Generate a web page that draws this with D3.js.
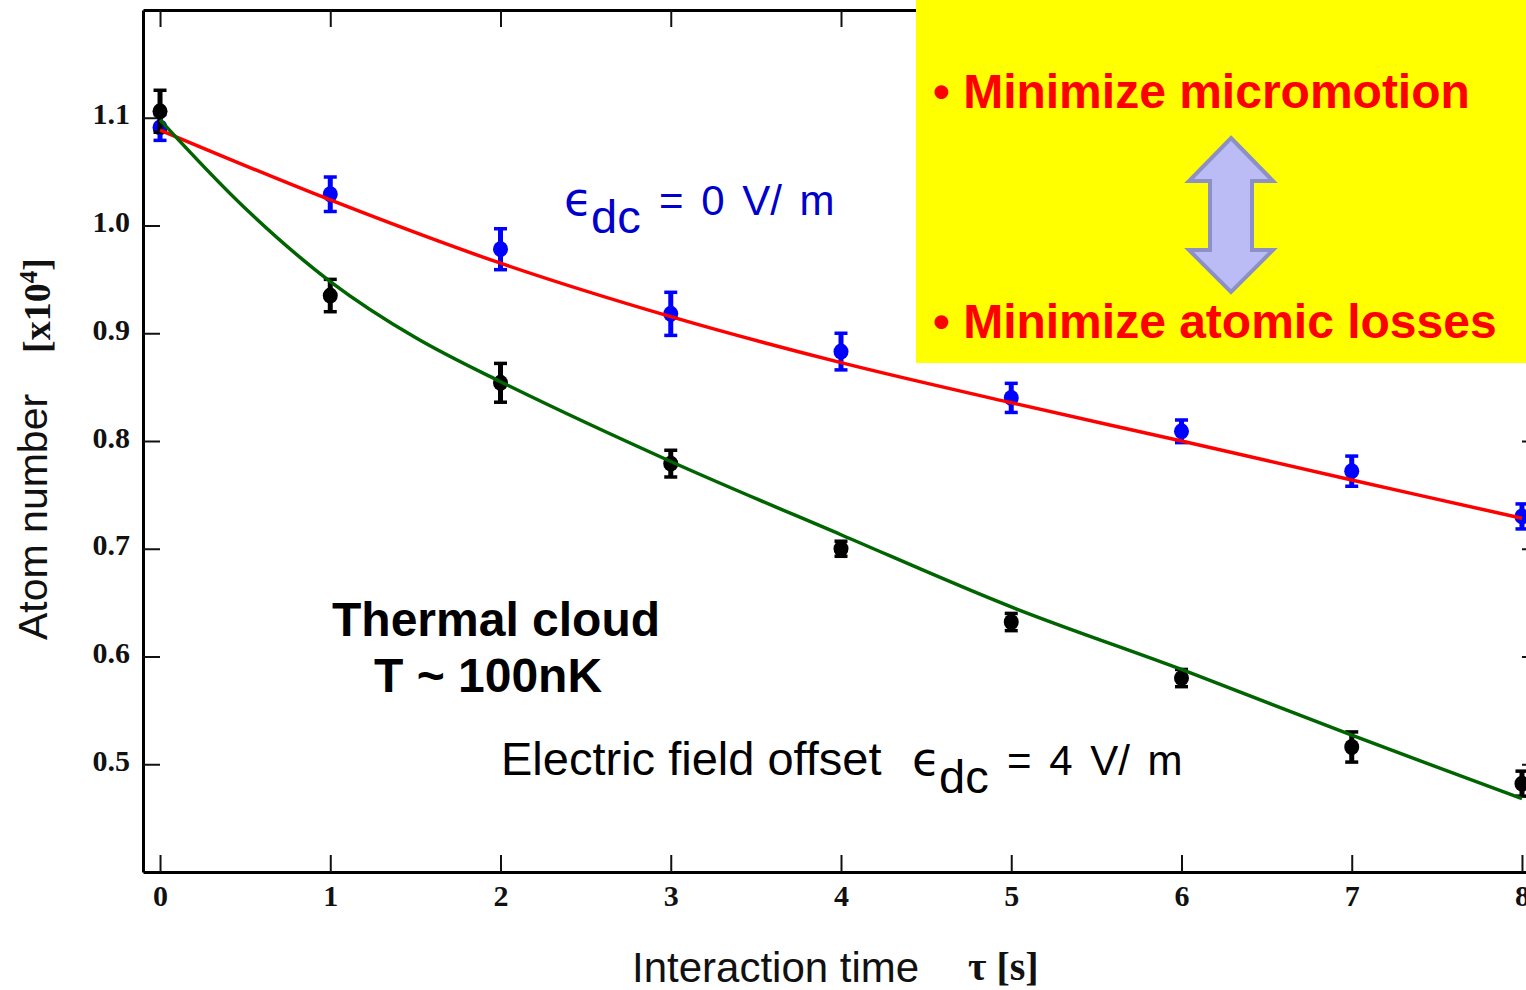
<!DOCTYPE html>
<html>
<head>
<meta charset="utf-8">
<script src="https://cdn.jsdelivr.net/npm/d3@7"></script>
<style>
  body { margin: 0; background: #fff; }
  svg { display: block; }
  .tick text { font-family: "Liberation Serif", "Times New Roman", serif; font-weight: bold; font-size: 30px; fill: #111; }
</style>
</head>
<body>
<div id="chart-area"></div>
<script>
// measured data (atom number in units of 10^4)
var times = [0, 1, 2, 3, 4, 5, 6, 7, 8];
var atoms0 = [1.091, 1.029, 0.978, 0.918, 0.883, 0.840, 0.809, 0.772, 0.730];
var err0 = [0.012, 0.016, 0.019, 0.020, 0.017, 0.0135, 0.0105, 0.014, 0.0116];
var atoms4 = [1.106, 0.935, 0.854, 0.779, 0.700, 0.632, 0.580, 0.516, 0.482];
var err4 = [0.0195, 0.015, 0.018, 0.0124, 0.007, 0.008, 0.008, 0.014, 0.0116];

// fitted curves
var fitT0 = [0, 1, 2, 3, 4, 5, 6, 7, 8];
var fitN0 = [1.0886, 1.0237, 0.965, 0.9154, 0.8727, 0.8355, 0.800, 0.7638, 0.7283];
var fitT4 = [0, 0.5, 1, 1.5, 2, 3, 4, 5, 6, 7, 8];
var fitN4 = [1.098, 1.016, 0.948, 0.896, 0.855, 0.781, 0.713, 0.646, 0.588, 0.527, 0.468];

var xTicks = [0, 1, 2, 3, 4, 5, 6, 7, 8];
var yTicks = [0.5, 0.6, 0.7, 0.8, 0.9, 1.0, 1.1];

var width = 1526, height = 990;
var svg = d3.select("#chart-area").append("svg")
    .attr("width", width)
    .attr("height", height);

svg.append("rect").attr("width", width).attr("height", height).attr("fill", "#fff");

var xScale = d3.scaleLinear().domain([-0.1, 8.1]).range([143, 1539]);
var yScale = d3.scaleLinear().domain([0.4, 1.2]).range([872, 10]);

function styleAxis(g) {
    g.select(".domain").attr("stroke", "#000").attr("stroke-width", 3);
    g.selectAll(".tick line").attr("stroke", "#111").attr("stroke-width", 2);
}

svg.append("g")
    .attr("transform", "translate(0,872)")
    .call(d3.axisBottom(xScale).tickValues(xTicks).tickSizeInner(-17).tickSizeOuter(0).tickPadding(13).tickFormat(d3.format("d")))
    .call(styleAxis);

svg.append("g")
    .attr("transform", "translate(0,10)")
    .call(d3.axisTop(xScale).tickValues(xTicks).tickSizeInner(-17).tickSizeOuter(0).tickFormat(""))
    .call(styleAxis);

svg.append("g")
    .attr("transform", "translate(143,0)")
    .call(d3.axisLeft(yScale).tickValues(yTicks).tickSizeInner(-17).tickSizeOuter(0).tickPadding(13).tickFormat(d3.format(".1f")))
    .call(styleAxis)
    .selectAll(".tick text").attr("dy", "0.2em");

svg.append("g")
    .attr("transform", "translate(1539,0)")
    .call(d3.axisRight(yScale).tickValues(yTicks).tickSizeInner(-17).tickSizeOuter(0).tickFormat(""))
    .call(styleAxis);

// data points with error bars
function drawSeries(vals, errs, color) {
    var data = times.map(function(t, i) { return { t: t, n: vals[i], e: errs[i] }; });
    var g = svg.append("g").attr("fill", color).attr("stroke", color);
    var pts = g.selectAll("g").data(data).enter().append("g");
    pts.append("line")
        .attr("x1", function(d) { return xScale(d.t); })
        .attr("x2", function(d) { return xScale(d.t); })
        .attr("y1", function(d) { return yScale(d.n + d.e); })
        .attr("y2", function(d) { return yScale(d.n - d.e); })
        .attr("stroke-width", 5);
    [1, -1].forEach(function(s) {
        pts.append("line")
            .attr("x1", function(d) { return xScale(d.t) - 6.5; })
            .attr("x2", function(d) { return xScale(d.t) + 6.5; })
            .attr("y1", function(d) { return yScale(d.n + s * d.e); })
            .attr("y2", function(d) { return yScale(d.n + s * d.e); })
            .attr("stroke-width", 3.5);
    });
    pts.append("ellipse")
        .attr("cx", function(d) { return xScale(d.t); })
        .attr("cy", function(d) { return yScale(d.n); })
        .attr("rx", 7.5)
        .attr("ry", 8)
        .attr("stroke", "none");
}
drawSeries(atoms0, err0, "#0000ff");
drawSeries(atoms4, err4, "#000000");

// fit lines
var line = d3.line()
    .x(function(d) { return xScale(d[0]); })
    .y(function(d) { return yScale(d[1]); })
    .curve(d3.curveCatmullRom);

svg.append("path")
    .datum(d3.zip(fitT0, fitN0))
    .attr("d", line)
    .attr("fill", "none")
    .attr("stroke", "#ff0000")
    .attr("stroke-width", 3.5);

svg.append("path")
    .datum(d3.zip(fitT4, fitN4))
    .attr("d", line)
    .attr("fill", "none")
    .attr("stroke", "#006400")
    .attr("stroke-width", 3.5);

// axis titles
svg.append("text")
    .attr("transform", "translate(47,640) rotate(-90)")
    .attr("font-family", "Liberation Sans, Arial, sans-serif")
    .attr("font-size", 41)
    .attr("fill", "#111")
    .text("Atom number");

var yl = svg.append("text")
    .attr("transform", "translate(50,353) rotate(-90)")
    .attr("font-family", "Liberation Serif, Times New Roman, serif")
    .attr("font-weight", "bold")
    .attr("font-size", 38)
    .attr("fill", "#111");
yl.append("tspan").text("[x10");
yl.append("tspan").attr("font-size", 25).attr("dy", -13).text("4");
yl.append("tspan").attr("dy", 13).text("]");

svg.append("text")
    .attr("x", 632).attr("y", 982)
    .attr("font-family", "Liberation Sans, Arial, sans-serif")
    .attr("font-size", 42)
    .attr("fill", "#111")
    .text("Interaction time");

svg.append("text")
    .attr("x", 968).attr("y", 980)
    .attr("font-family", "Liberation Serif, Times New Roman, serif")
    .attr("font-weight", "bold")
    .attr("font-size", 40)
    .attr("fill", "#111")
    .text("\u03c4 [s]");

// annotations
function fieldLabel(x0, yBase, color, value) {
    var t = svg.append("text")
        .attr("font-family", "Liberation Sans, Arial, sans-serif")
        .attr("fill", color);
    t.append("tspan").attr("x", x0).attr("y", yBase)
        .attr("font-family", "DejaVu Sans, sans-serif").attr("font-size", 46).text("\u03f5");
    t.append("tspan").attr("x", x0 + 27).attr("y", yBase + 18).attr("font-size", 47).text("dc");
    svg.append("text")
        .attr("x", x0 + 95).attr("y", yBase)
        .attr("font-family", "Liberation Sans, Arial, sans-serif")
        .attr("font-size", 42)
        .attr("word-spacing", 6)
        .attr("fill", color)
        .text("= " + value + " V/ m");
}
fieldLabel(564, 215, "#0000cc", "0");

svg.append("text")
    .attr("x", 501).attr("y", 775)
    .attr("font-family", "Liberation Sans, Arial, sans-serif")
    .attr("font-size", 47)
    .attr("fill", "#000")
    .text("Electric field offset");
fieldLabel(912, 775, "#000", "4");

svg.append("text")
    .attr("x", 332).attr("y", 636)
    .attr("font-family", "Liberation Sans, Arial, sans-serif")
    .attr("font-weight", "bold")
    .attr("font-size", 48)
    .attr("fill", "#000")
    .text("Thermal cloud");
svg.append("text")
    .attr("x", 374).attr("y", 692)
    .attr("font-family", "Liberation Sans, Arial, sans-serif")
    .attr("font-weight", "bold")
    .attr("font-size", 48)
    .attr("fill", "#000")
    .text("T ~ 100nK");

// yellow box
svg.append("rect")
    .attr("x", 916).attr("y", 0)
    .attr("width", width - 916).attr("height", 363)
    .attr("fill", "#ffff00");

[["\u2022 Minimize micromotion", 108], ["\u2022 Minimize atomic losses", 338]].forEach(function(d) {
    svg.append("text")
        .attr("x", 933).attr("y", d[1])
        .attr("font-family", "Liberation Sans, Arial, sans-serif")
        .attr("font-weight", "bold")
        .attr("font-size", 48)
        .attr("fill", "#ff0000")
        .text(d[0]);
});

var arrowPts = [[1231, 138], [1273, 181], [1252, 181], [1252, 250], [1273, 250], [1231, 292],
                [1189, 250], [1210, 250], [1210, 181], [1189, 181]];
svg.append("polygon")
    .attr("points", arrowPts.map(function(p) { return p.join(","); }).join(" "))
    .attr("fill", "#bbbcf6")
    .attr("stroke", "#8d90c4")
    .attr("stroke-width", 4)
    .attr("stroke-linejoin", "miter");
</script>
</body>
</html>
